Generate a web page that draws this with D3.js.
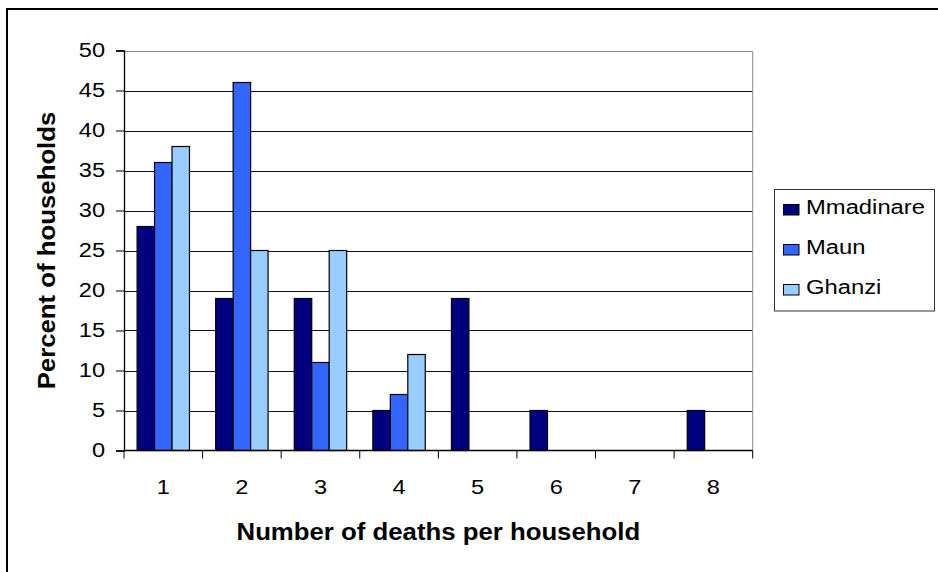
<!DOCTYPE html>
<html>
<head>
<meta charset="utf-8">
<script src="https://cdn.jsdelivr.net/npm/d3@7"></script>
<style>
  html, body { margin: 0; padding: 0; background: #fff; }
  svg { display: block; }
  text { font-family: "Liberation Sans", Arial, sans-serif; fill: #000; }
</style>
</head>
<body>
<svg id="chart" width="938" height="572"></svg>
<script>
// Number of deaths per household, by village (percent of households)
const categories = ["1", "2", "3", "4", "5", "6", "7", "8"];
const seriesNames = ["Mmadinare", "Maun", "Ghanzi"];
const mmadinare = [28, 19, 19, 5, 19, 5, 0, 5];
const maun      = [36, 46, 11, 7, 0, 0, 0, 0];
const ghanzi    = [38, 25, 25, 12, 0, 0, 0, 0];
const yTicks = [0, 5, 10, 15, 20, 25, 30, 35, 40, 45, 50];
const seriesColors = ["#000080", "#3366FF", "#99CCFF"];

const seriesValues = [mmadinare, maun, ghanzi];

const svg = d3.select("#chart");
const plot = { left: 124, right: 752.7, top: 50.5, bottom: 450.5 };

// Chart-area frame
svg.append("rect")
  .attr("x", 7).attr("y", 9)
  .attr("width", 960).attr("height", 600)
  .attr("fill", "#fff").attr("stroke", "#000").attr("stroke-width", 2);

const x0 = d3.scaleBand().domain(categories).range([plot.left, plot.right]).paddingInner(0).paddingOuter(0);
const x1 = d3.scaleBand().domain(seriesNames).range([0, x0.bandwidth()]).paddingInner(0).paddingOuter(0.75);
const y = d3.scaleLinear().domain([0, 50]).range([plot.bottom, plot.top]);

// stretch text horizontally to the wide glyph look of the chart
function widen(sel, k) {
  sel.each(function () {
    const len = this.getComputedTextLength();
    d3.select(this).attr("textLength", len * k).attr("lengthAdjust", "spacingAndGlyphs");
  });
}

// Gridlines
svg.append("g").selectAll("line")
  .data(yTicks.filter(t => t > 0 && t < 50))
  .join("line")
  .attr("x1", plot.left).attr("x2", plot.right)
  .attr("y1", d => Math.round(y(d)) + 0.5).attr("y2", d => Math.round(y(d)) + 0.5)
  .attr("stroke", "#111").attr("stroke-width", 1);

// Plot-area border (top and right)
svg.append("path")
  .attr("d", `M${plot.left},${Math.round(plot.top) + 0.5}H${plot.right}V${plot.bottom}`)
  .attr("fill", "none").attr("stroke", "#888").attr("stroke-width", 1);

// Bars
const groups = svg.append("g").selectAll("g")
  .data(categories)
  .join("g")
  .attr("transform", d => `translate(${x0(d)},0)`);

groups.selectAll("rect")
  .data((c, i) => seriesNames.map((s, j) => ({ s, j, v: seriesValues[j][i] })))
  .join("rect")
  .filter(d => d.v > 0)
  .attr("x", d => x1(d.s))
  .attr("y", d => y(d.v))
  .attr("width", x1.bandwidth())
  .attr("height", d => y(0) - y(d.v))
  .attr("fill", d => seriesColors[d.j])
  .attr("stroke", "#000").attr("stroke-width", 1.2);

// Y axis
const yAxis = svg.append("g")
  .attr("transform", `translate(${plot.left},0)`)
  .call(d3.axisLeft(y).tickValues(yTicks).tickSize(8).tickPadding(11).tickFormat(d3.format("d")));
yAxis.select(".domain").attr("stroke", "#000").attr("stroke-width", 1.3);
yAxis.selectAll(".tick line").attr("stroke", "#000");
yAxis.selectAll(".tick text")
  .attr("font-family", "Liberation Sans, Arial, sans-serif")
  .attr("font-size", 20.5).attr("dy", "0.27em").attr("fill", "#000")
  .call(widen, 1.15);

// X axis: ticks on category boundaries, labels centred in each category
const xAxis = svg.append("g").attr("transform", `translate(0,${plot.bottom})`);
xAxis.append("line")
  .attr("x1", plot.left).attr("x2", plot.right)
  .attr("stroke", "#000").attr("stroke-width", 1.3);
xAxis.selectAll("line.tick")
  .data(categories.concat(["end"]))
  .join("line")
  .attr("class", "tick")
  .attr("x1", (d, i) => plot.left + i * x0.step())
  .attr("x2", (d, i) => plot.left + i * x0.step())
  .attr("y1", 0).attr("y2", 8)
  .attr("stroke", "#000");
xAxis.selectAll("text")
  .data(categories)
  .join("text")
  .attr("x", d => x0(d) + x0.bandwidth() / 2)
  .attr("y", 43.5)
  .attr("text-anchor", "middle")
  .attr("font-size", 20.5)
  .text(d => d)
  .call(widen, 1.15);

// Axis titles
svg.append("text")
  .attr("x", (plot.left + plot.right) / 2)
  .attr("y", 539.5)
  .attr("text-anchor", "middle")
  .attr("font-size", 23).attr("font-weight", "bold")
  .text("Number of deaths per household")
  .call(widen, 1.12);

svg.append("text")
  .attr("transform", `translate(55,${(plot.top + plot.bottom) / 2}) rotate(-90)`)
  .attr("text-anchor", "middle")
  .attr("font-size", 23).attr("font-weight", "bold")
  .text("Percent of households")
  .call(widen, 1.12);

// Legend
const legend = svg.append("g");
legend.append("rect")
  .attr("x", 774.5).attr("y", 189.5)
  .attr("width", 160).attr("height", 121.5)
  .attr("fill", "#fff").attr("stroke", "#333").attr("stroke-width", 1);

const items = legend.selectAll("g.item")
  .data(seriesNames)
  .join("g")
  .attr("class", "item")
  .attr("transform", (d, i) => `translate(0,${i * 40})`);
items.append("rect")
  .attr("x", 783.5).attr("y", 204.5)
  .attr("width", 15.5).attr("height", 10.5)
  .attr("fill", (d, i) => seriesColors[i])
  .attr("stroke", "#000").attr("stroke-width", 1);
items.append("text")
  .attr("x", 806).attr("y", 213.5)
  .attr("font-size", 19.5)
  .text(d => d)
  .call(widen, 1.22);
</script>
</body>
</html>
